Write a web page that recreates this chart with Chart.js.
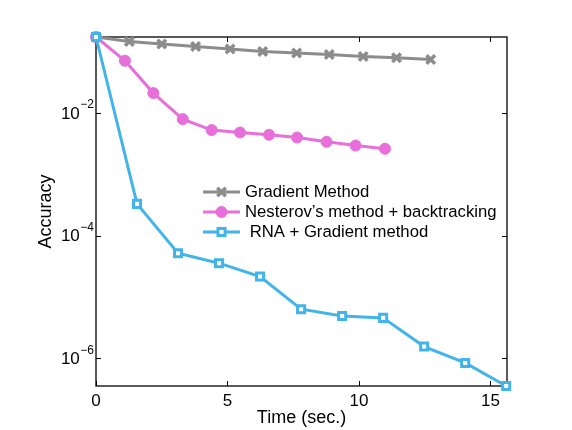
<!DOCTYPE html>
<html>
<head>
<meta charset="utf-8">
<script src="https://cdn.jsdelivr.net/npm/chart.js@4.4.1/dist/chart.umd.min.js"></script>
<style>
  html, body { margin: 0; padding: 0; background: #fff; }
  #wrap { width: 572px; height: 430px; }
</style>
</head>
<body>
<div id="wrap"><canvas id="grafico" width="572" height="430"></canvas></div>
<script>
// dati (tempo in secondi, accuratezza in scala log)
const gradTime = [0, 1.27, 2.50, 3.79, 5.10, 6.34, 7.63, 8.87, 10.16, 11.43, 12.73];
const gradAcc = [0.174, 0.147, 0.134, 0.122, 0.111, 0.101, 0.0953, 0.0904, 0.0838, 0.0798, 0.0748];

const nestTime = [0, 1.10, 2.18, 3.30, 4.40, 5.48, 6.58, 7.65, 8.77, 9.87, 10.99];
const nestAcc = [0.174, 0.0713, 0.0212, 0.00798, 0.00528, 0.00483, 0.00443, 0.00400, 0.00340, 0.00296, 0.00262];

const rnaTime = [0, 1.56, 3.12, 4.68, 6.24, 7.80, 9.36, 10.92, 12.48, 14.04, 15.60];
const rnaAcc = [0.174, 3.31e-4, 5.20e-5, 3.57e-5, 2.16e-5, 6.35e-6, 4.93e-6, 4.58e-6, 1.56e-6, 8.43e-7, 3.55e-7];

const xTicks = [0, 5, 10, 15];
const yTicks = [1e-2, 1e-4, 1e-6];
const yTickExp = ["\u22122", "\u22124", "\u22126"];

const labels = ["Gradient Method", "Nesterov\u2019s method + backtracking", " RNA + Gradient method"];

const FONT = "'Liberation Sans', Arial, Helvetica, sans-serif";

const punti = (xs, ys) => xs.map((x, i) => ({ x, y: ys[i] }));

// riquadro + tacche verso l'interno
const cornice = {
  id: "cornice",
  beforeDatasetsDraw(chart) {
    const { ctx, chartArea: a, scales: { x, y } } = chart;
    ctx.save();
    ctx.strokeStyle = "#000";
    ctx.lineWidth = 1.3;
    ctx.strokeRect(a.left, a.top, a.right - a.left, a.bottom - a.top);
    ctx.beginPath();
    xTicks.forEach(v => {
      const px = Math.round(x.getPixelForValue(v)) + 0.5;
      ctx.moveTo(px, a.bottom); ctx.lineTo(px, a.bottom - 5);
      ctx.moveTo(px, a.top); ctx.lineTo(px, a.top + 5);
    });
    yTicks.forEach(v => {
      const py = Math.round(y.getPixelForValue(v)) + 0.5;
      ctx.moveTo(a.left, py); ctx.lineTo(a.left + 5, py);
      ctx.moveTo(a.right, py); ctx.lineTo(a.right - 5, py);
    });
    ctx.lineWidth = 1;
    ctx.stroke();
    ctx.restore();
  },
  afterDraw(chart) {
    const { ctx, chartArea: a, scales: { y } } = chart;
    ctx.save();
    ctx.fillStyle = "#000";
    // etichette asse y con esponente
    yTicks.forEach((v, i) => {
      const py = y.getPixelForValue(v);
      ctx.font = "12px " + FONT;
      const wExp = ctx.measureText(yTickExp[i]).width;
      const xExp = a.left - 2 - wExp;
      ctx.textAlign = "left";
      ctx.textBaseline = "middle";
      ctx.fillText(yTickExp[i], xExp, py - 8);
      ctx.font = "17px " + FONT;
      ctx.textAlign = "right";
      ctx.fillText("10", xExp - 0.5, py + 1);
    });

    // legenda
    const x0 = 203, x1 = 240, xt = 245;
    chart.data.datasets.forEach((ds, r) => {
      const ry = 192 + r * 20;
      ctx.strokeStyle = ds.borderColor;
      ctx.lineWidth = ds.borderWidth;
      ctx.beginPath();
      ctx.moveTo(x0, ry); ctx.lineTo(x1, ry);
      ctx.stroke();
      ctx.fillStyle = ds.pointBackgroundColor;
      ctx.strokeStyle = ds.pointBorderColor;
      ctx.lineWidth = ds.pointBorderWidth;
      Chart.helpers.drawPoint(ctx, { pointStyle: ds.pointStyle, radius: ds.pointRadius, borderWidth: ds.pointBorderWidth, rotation: 0 }, (x0 + x1) / 2, ry);
      ctx.fillStyle = "#000";
      ctx.font = "16.7px " + FONT;
      ctx.textAlign = "left";
      ctx.textBaseline = "middle";
      ctx.fillText(ds.label, xt, ry);
    });
    ctx.restore();
  }
};

new Chart(document.getElementById("grafico").getContext("2d"), {
  type: "line",
  data: {
    datasets: [
      {
        label: labels[0], data: punti(gradTime, gradAcc), order: 3,
        borderColor: "#8c8c8c", borderWidth: 3,
        pointStyle: "crossRot", pointRadius: 6, pointBorderWidth: 3.5,
        pointBorderColor: "#8c8c8c", pointBackgroundColor: "#8c8c8c"
      },
      {
        label: labels[1], data: punti(nestTime, nestAcc), order: 2,
        borderColor: "#e86ed9", borderWidth: 3,
        pointStyle: "circle", pointRadius: 5.5, pointBorderWidth: 1,
        pointBorderColor: "#e86ed9", pointBackgroundColor: "#e86ed9"
      },
      {
        label: labels[2], data: punti(rnaTime, rnaAcc), order: 1,
        borderColor: "#42b4ea", borderWidth: 3,
        pointStyle: "rect", pointRadius: 5, pointBorderWidth: 3,
        pointBorderColor: "#42b4ea", pointBackgroundColor: "#ffffff"
      }
    ]
  },
  options: {
    responsive: false,
    animation: false,
    events: [],
    clip: false,
    layout: { padding: { left: 0, top: 37, right: 65, bottom: 0 } },
    elements: { line: { tension: 0 } },
    plugins: { legend: { display: false }, tooltip: { enabled: false } },
    scales: {
      x: {
        type: "linear", min: 0, max: 15.63,
        grid: { display: false, drawTicks: false },
        border: { display: false },
        afterFit: s => { s.height = 44; },
        afterBuildTicks: s => { s.ticks = xTicks.map(v => ({ value: v })); },
        ticks: { color: "#000", padding: 5, font: { family: FONT, size: 17 }, includeBounds: false },
        title: { display: true, text: "Time (sec.)", color: "#000", font: { family: FONT, size: 18 }, padding: { top: 0, bottom: 1 } }
      },
      y: {
        type: "logarithmic", min: 3.55e-7, max: 0.174,
        grid: { display: false, drawTicks: false },
        border: { display: false },
        afterFit: s => { s.width = 96; },
        ticks: { display: false },
        title: { display: true, text: "Accuracy", color: "#000", font: { family: FONT, size: 18 }, padding: { top: 35, bottom: 0 } }
      }
    }
  },
  plugins: [cornice]
});
</script>
</body>
</html>
